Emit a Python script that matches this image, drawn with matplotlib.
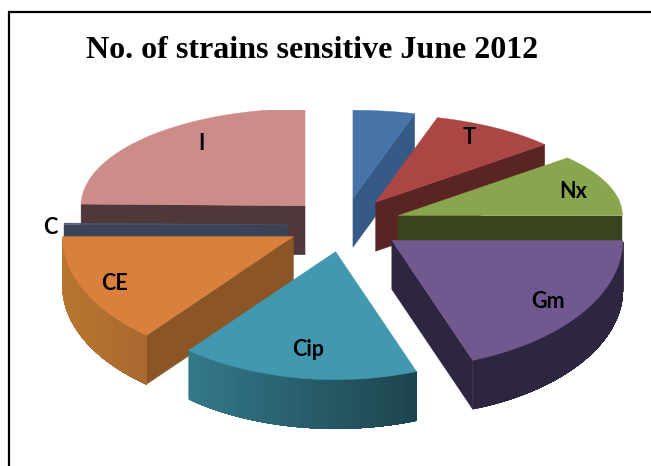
import numpy as np
import matplotlib
matplotlib.use("Agg")
import matplotlib.pyplot as plt
from matplotlib.colors import to_rgb
from matplotlib.patches import Polygon, Rectangle

# Share of sensitive strains per antibiotic, going clockwise from twelve o'clock
categories = ["", "T", "Nx", "Gm", "Cip", "CE", "C", "I"]
values = [16.0, 33.0, 41.0, 69.5, 60.0, 50.5, 1.0, 89.0]
title = "No. of strains sensitive June 2012"

top_colors = ["#4674a8", "#aa4644", "#89a54e", "#71588f", "#4198af", "#d8803c", "#4a566c", "#cd8c8a"]
side_colors = ["#355a85", "#5a2423", "#3a431f", "#2e2540", "#2a6070", "#8b5526", "#3a4456", "#50373a"]
wall_start = ["#355a85", "#5a2423", "#3a431f", "#2e2540", "#33788a", "#b8752f", "#3a4456", "#50373a"]
wall_end = ["#355a85", "#5a2423", "#3a431f", "#2e2540", "#1d444e", "#a9692f", "#3a4456", "#50373a"]
draw_order = [0, 1, 2, 3, 7, 6, 5, 4]
label_pos = {"T": (469, 137), "Nx": (573, 192), "Gm": (548, 301), "Cip": (308, 349),
             "CE": (114, 283), "C": (50, 228), "I": (201, 143)}

W, H = 651, 466
CX, CY = 345.0, 225.0
EX, EY = 57.0, 27.0
RX_FRONT, RX_BACK = 231.0, 224.0
RY_FRONT, RY_BACK_LEFT, RY_BACK_RIGHT = 128.0, 97.0, 88.0
DEPTH = 49.0
CLIP_TOP = 110.0

fig = plt.figure(figsize=(W / 100, H / 100), dpi=100, facecolor="white")
ax = fig.add_axes([0, 0, 1, 1])
ax.set_xlim(0, W)
ax.set_ylim(H, 0)
ax.axis("off")

clip = Rectangle((0, CLIP_TOP), W, H - CLIP_TOP, transform=ax.transData)


def add_face(points, color, z):
    patch = Polygon(points, closed=True, facecolor=color, edgecolor=color,
                    linewidth=0.3, zorder=z)
    ax.add_patch(patch)
    patch.set_clip_path(clip)


def mix(c0, c1, t):
    a, b = np.array(to_rgb(c0)), np.array(to_rgb(c1))
    return tuple(a + (b - a) * t)


# Build each exploded wedge from its value; the slices meet at twelve o'clock
edges = -90.0 + np.concatenate([[0.0], np.cumsum(values)]) * 360.0 / np.sum(values)
z = 1
for i in draw_order:
    t0, t1 = np.radians(edges[i]), np.radians(edges[i + 1])
    mid = (t0 + t1) / 2
    apex = (CX + EX * np.cos(mid), CY + EY * np.sin(mid))

    # Perspective: nearer slices project larger than the ones further back
    if np.sin(mid) > 0:
        rx, ry = RX_FRONT, RY_FRONT
    else:
        rx, ry = RX_BACK, RY_BACK_LEFT if np.cos(mid) < 0 else RY_BACK_RIGHT

    theta = np.linspace(t0, t1, 90)
    xs = apex[0] + rx * np.cos(theta)
    ys = apex[1] + ry * np.sin(theta)

    # Radial cut faces that turn towards the viewer
    for edge, normal in ((t0, t0 - np.pi / 2), (t1, t1 + np.pi / 2)):
        if np.sin(normal) > 1e-6:
            ex = apex[0] + rx * np.cos(edge)
            ey = apex[1] + ry * np.sin(edge)
            add_face([apex, (ex, ey), (ex, ey + DEPTH), (apex[0], apex[1] + DEPTH)],
                     side_colors[i], z)
            z += 1

    # Curved outer wall, shaded left to right; each strip runs on to the end so no seams show
    front = np.sin(theta) > 1e-6
    if front.sum() > 1:
        fx, fy = xs[front], ys[front]
        order = np.argsort(fx)
        fx, fy = fx[order], fy[order]
        lo, hi = fx.min(), fx.max()
        for k in range(len(fx) - 1):
            shade = (fx[k] - lo) / max(hi - lo, 1)
            strip = np.vstack([np.column_stack([fx[k:], fy[k:]]),
                               np.column_stack([fx[k:][::-1], fy[k:][::-1] + DEPTH])])
            add_face(strip, mix(wall_start[i], wall_end[i], shade), z)
            z += 1

    add_face(np.vstack([[apex], np.column_stack([xs, ys])]), top_colors[i], z)
    z += 1

for name, (lx, ly) in label_pos.items():
    ax.text(lx, ly, name, ha="center", va="center", fontsize=15.5, color="black",
            family="Lato", fontweight="bold", zorder=z)

ax.text(312.5, 50, title, ha="center", va="center", fontsize=23,
        family="Liberation Serif", fontweight="bold", color="black", zorder=z)

# Frame runs along the top and left only, and off the edge of the figure
ax.plot([8.5, 8.5, W + 2], [H + 2, 12, 12], color="black", lw=1.6, zorder=z,
        solid_joinstyle="miter")

fig.savefig("out.png", dpi=100)
